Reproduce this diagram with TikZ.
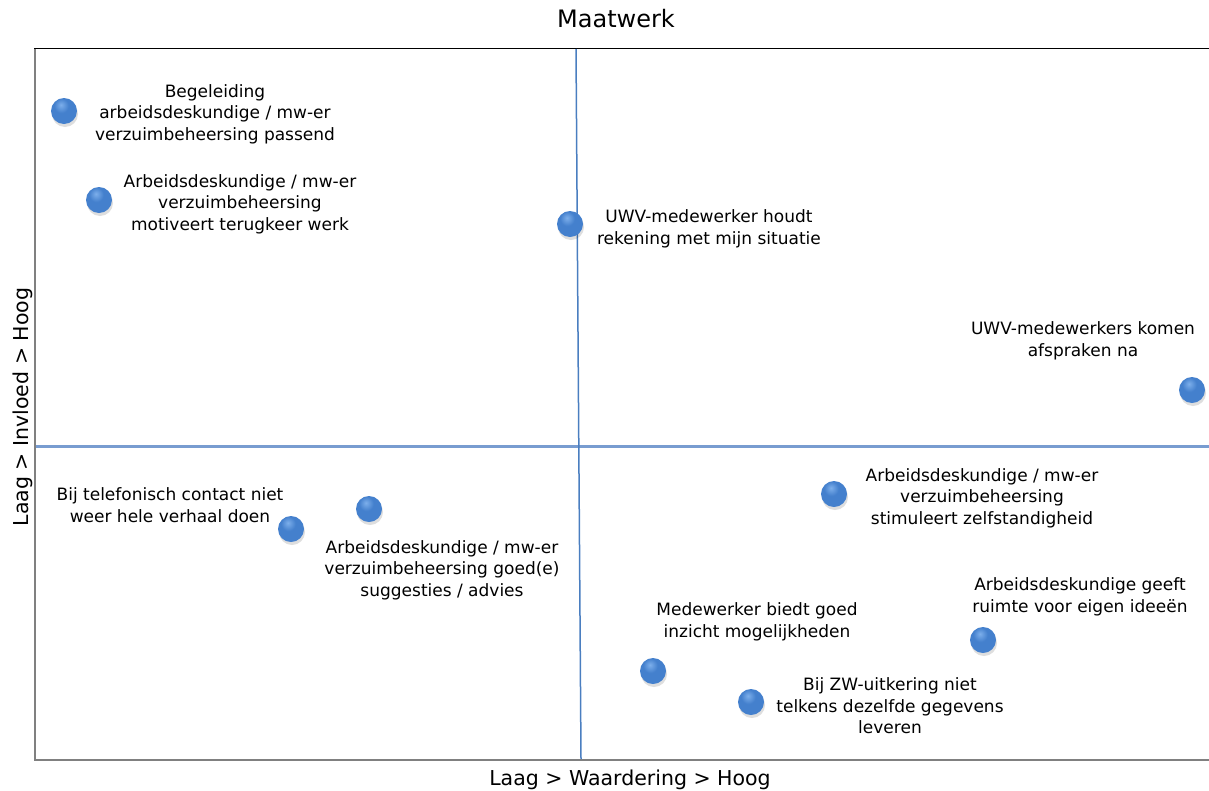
\documentclass[tikz,border=0pt]{standalone}
\usepackage{fontspec}
\setmainfont{DejaVu Sans}
\definecolor{hblue}{RGB}{120,156,208}
\definecolor{vblue}{RGB}{74,126,192}
\definecolor{framegray}{RGB}{128,128,128}
\definecolor{ballhi}{RGB}{125,175,235}
\definecolor{ballmid}{RGB}{68,128,205}
\definecolor{balllo}{RGB}{48,100,170}
\definecolor{ballrim}{RGB}{38,80,140}
\pgfdeclareradialshading{myball}{\pgfpoint{-6bp}{12bp}}{%
  color(0bp)=(ballhi); color(14bp)=(ballmid); color(38bp)=(ballmid);
  color(55bp)=(balllo); color(62bp)=(ballrim); color(100bp)=(ballrim)}
\tikzset{
  bubble/.style={circle, minimum size=26pt, inner sep=0pt, shading=myball},
  bshadow/.style={circle, minimum size=26pt, inner sep=0pt, fill=black, opacity=0.13},
  lbl/.style={align=center, inner sep=0pt, font=\fontsize{17}{21.5}\selectfont},
  axlbl/.style={inner sep=0pt, font=\fontsize{20.5}{24}\selectfont},
}
\begin{document}
\begin{tikzpicture}[x=1pt,y=-1pt]
\useasboundingbox (0,0) rectangle (1209,790);
% frame
\draw[framegray, line width=2pt] (35,48.5) -- (35,760) -- (1209,760);
\draw[black, line width=1.6pt] (34,48.5) -- (1209,48.5);
% quadrant lines
\coordinate (vt) at (576,49);
\coordinate (vb) at (581,759);
\coordinate (hl) at (36,446.5);
\coordinate (hr) at (1209,446.5);
\draw[hblue, line width=2.2pt] (hl) -- (hr);
\draw[vblue, line width=1.5pt] (vt) -- (vb);
% titles
\node[inner sep=0pt, font=\fontsize{24}{28}\selectfont, anchor=base] (title) at (616,27) {Maatwerk};
\node[axlbl, anchor=base] (xlab) at (630,785) {Laag > Waardering > Hoog};
\node[axlbl, rotate=90, anchor=base] (ylab) at (28,407) {Laag > Invloed > Hoog};
% bubbles
\foreach \n/\x/\y in {b1/64/111, b2/99/200, b3/570/224, b4/1192/390, b5/291/529, b6/369/509, b7/834/494, b8/983/640, b9/653/671, b10/751/702}{
  \node[bshadow] at (\x+1,\y+3) {};
  \node[bubble] (\n) at (\x,\y) {};
}
% labels
\node[lbl] (t1) at (215,114) {Begeleiding\\arbeidsdeskundige / mw-er\\verzuimbeheersing passend};
\node[lbl] (t2) at (240,204) {Arbeidsdeskundige / mw-er\\verzuimbeheersing\\motiveert terugkeer werk};
\node[lbl] (t3) at (709,229) {UWV-medewerker houdt\\rekening met mijn situatie};
\node[lbl] (t4) at (1083,341) {UWV-medewerkers komen\\afspraken na};
\node[lbl] (t5) at (170,505) {Bij telefonisch contact niet\\weer hele verhaal doen};
\node[lbl] (t6) at (442,570) {Arbeidsdeskundige / mw-er\\verzuimbeheersing goed(e)\\suggesties / advies};
\node[lbl] (t7) at (982,498) {Arbeidsdeskundige / mw-er\\verzuimbeheersing\\stimuleert zelfstandigheid};
\node[lbl] (t8) at (1080,597) {Arbeidsdeskundige geeft\\ruimte voor eigen ideeën};
\node[lbl] (t9) at (757,622) {Medewerker biedt goed\\inzicht mogelijkheden};
\node[lbl] (t10) at (890,706) {Bij ZW-uitkering niet\\telkens dezelfde gegevens\\leveren};
\end{tikzpicture}
\end{document}
